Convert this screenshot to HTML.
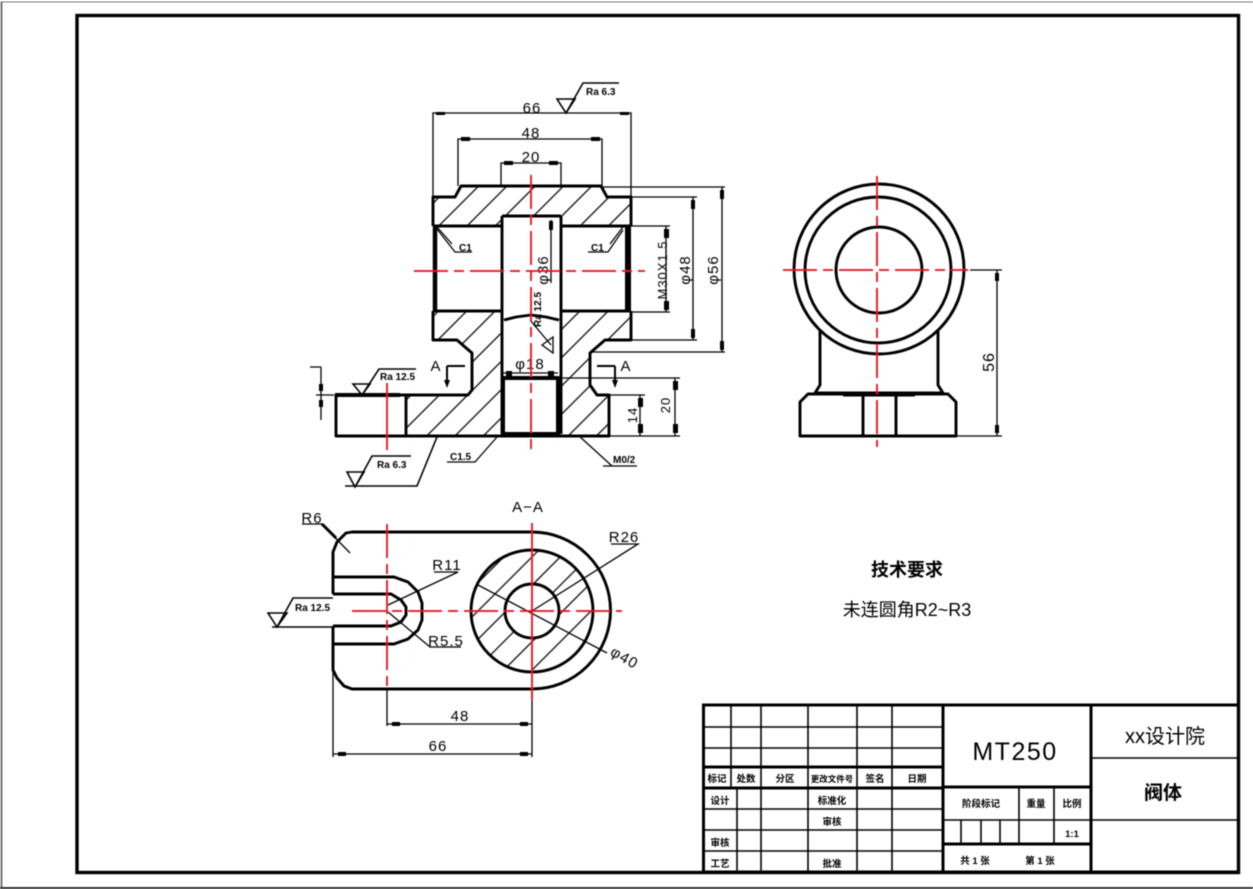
<!DOCTYPE html>
<html><head><meta charset="utf-8"><style>
html,body{margin:0;padding:0;background:#fff}
svg{display:block}
text{font-family:"Liberation Sans","Noto Sans CJK SC",sans-serif;fill:#000}
.t{font-family:"Liberation Sans Narrow","Liberation Sans",sans-serif;font-size:15px;text-anchor:middle;letter-spacing:1px}
.s{font-family:"Liberation Sans Narrow","Liberation Sans",sans-serif;font-size:10px;font-weight:bold}
.c{font-size:9.5px;font-weight:bold;text-anchor:middle}
.m{fill:none;stroke:#000;stroke-width:2.9;stroke-linejoin:round}
.d{fill:none;stroke:#000;stroke-width:1.3}
.r{fill:none;stroke:#e0101c;stroke-width:1.8;stroke-dasharray:34 6 10 6}
.h{stroke:#000;stroke-width:1.1;fill:url(#hatch)}
.b{fill:#000}
</style></head><body>
<svg width="1253" height="889" viewBox="0 0 1253 889" xmlns="http://www.w3.org/2000/svg">
<defs>
<pattern id="hatch" patternUnits="userSpaceOnUse" width="20" height="20" patternTransform="rotate(-45)"><line x1="0" y1="10" x2="20" y2="10" stroke="#000" stroke-width="1.2"/></pattern>
<filter id="bl" x="0" y="0" width="100%" height="100%"><feGaussianBlur stdDeviation="0.5"/></filter>
</defs>
<rect width="1253" height="889" fill="#fff"/>
<g filter="url(#bl)">
<path d="M1.5 889V1.5H1253" fill="none" stroke="#555" stroke-width="1.6"/>
<rect x="0" y="887" width="1253" height="2" fill="#333"/>
<rect x="77" y="15.5" width="1161.5" height="857" fill="none" stroke="#000" stroke-width="3.4"/>

<!-- FRONT VIEW hatching -->
<path d="M433 197H453L458 186H602L607 197H631V226H561V216H502V226H433Z" fill="url(#hatch)"/>
<path d="M433 311H502V436H406V395H468L472 390V353L457 340H433Z" fill="url(#hatch)"/>
<path d="M561 311H631V340H605L590 353V385L597 395H609V436H561Z" fill="url(#hatch)"/>

<!-- FRONT VIEW outline -->
<path class="m" d="M433 226V197H455L461 186H601L607 197H631V226"/>
<path class="m" d="M433 226H502M561 226H631"/>
<path class="m" d="M433 311H502M561 311H631"/>
<path class="m" d="M435 226V311" style="stroke-width:4.5"/>
<path class="m" d="M628 226V311" style="stroke-width:6"/>
<path class="m" d="M433 311V340H457L465 347L472 353V390L468 395H336V436H609V395H597L590 385V353L605 340H631V311"/>
<path class="m" d="M502 216H561M502 216V434M561 216V320M561 320V434"/>
<path class="m" d="M504 320L516 317 531 315 546 317 559 320"/>
<path class="m" d="M503 378H558V434H503Z" style="stroke-width:4"/>
<path class="m" d="M406 395V436"/>
<path class="m" d="M335 395H400" style="stroke-width:4"/>
<path class="d" d="M437 227L452 244M623 227L610 244"/>

<!-- Dimensions: front -->
<path class="d" d="M433 197V113H631V197M458 186V139H602V186M501 186V163H561V186"/>
<path class="d" d="M602 187H725M722 187V352M590 352H725M631 197H697M693 197V340M631 340H697M631 226H670M666 226V312M631 312H670"/>
<path class="d" d="M551 220V283M503 373H558"/>
<path class="d" d="M561 378H680M675 378V436M609 395H645M640 395V436M609 436H680"/>
<g class="b">
<rect x="436" y="112" width="9" height="3"/><rect x="620" y="112" width="9" height="3"/>
<rect x="461" y="137" width="9" height="4"/><rect x="591" y="137" width="9" height="4"/>
<rect x="504" y="161" width="9" height="4"/><rect x="549" y="161" width="9" height="4"/>
<rect x="720" y="190" width="4" height="9"/><rect x="720" y="341" width="4" height="9"/>
<rect x="691" y="200" width="4" height="9"/><rect x="691" y="329" width="4" height="9"/>
<rect x="664" y="229" width="5" height="9"/><rect x="664" y="301" width="5" height="9"/>
<rect x="549" y="221" width="4" height="9"/>
<rect x="638" y="398" width="5" height="9"/><rect x="638" y="424" width="5" height="9"/>
<rect x="673" y="381" width="5" height="9"/><rect x="673" y="424" width="5" height="9"/>
<rect x="506" y="371" width="6" height="5"/><rect x="548" y="371" width="6" height="5"/>
<rect x="319" y="384" width="4" height="7"/><rect x="319" y="400" width="4" height="7"/>
</g>
<text class="t" x="532" y="113">66</text>
<text class="t" x="531" y="138">48</text>
<text class="t" x="531" y="162">20</text>
<text class="t" transform="translate(667,270) rotate(-90)" style="font-size:13px">M30X1.5</text>
<text class="t" transform="translate(690,270) rotate(-90)">φ48</text>
<text class="t" transform="translate(718,270) rotate(-90)">φ56</text>
<text class="t" transform="translate(548,270) rotate(-90)">φ36</text>
<text class="s" transform="translate(541,327) rotate(-90)">Ra 12.5</text>
<text class="t" x="530" y="369">φ18</text>
<text class="t" transform="translate(637,415) rotate(-90)" style="font-size:13px">14</text>
<text class="t" transform="translate(670,405) rotate(-90)" style="font-size:13px">20</text>
<text class="s" x="459" y="251">C1</text><path class="d" d="M437 229L455 252H472"/>
<text class="s" x="591" y="251">C1</text><path class="d" d="M623 230L608 252H588"/>
<path class="d" d="M530 320L551 345" />
<path class="d" d="M553 337L542 345 553 353Z"/>

<!-- Roughness symbols -->
<path d="M557 99H575L566 113ZM566 113L583 83H619" fill="none" stroke="#000" stroke-width="1.6"/>
<text class="s" x="586" y="95">Ra 6.3</text>
<path d="M353 384H370L362 395ZM362 395L379 369H416" fill="none" stroke="#000" stroke-width="1.6"/>
<text class="s" x="380" y="380">Ra 12.5</text>
<path d="M347 472H364L355 487ZM355 487L372 456H411M345 486H417L437 437" fill="none" stroke="#000" stroke-width="1.6"/>
<text class="s" x="377" y="468">Ra 6.3</text>
<path class="d" d="M447 462H475L497 437M603 466H637M612 466L578 435"/>
<text class="s" x="450" y="460">C1.5</text>
<text class="s" x="613" y="463">M0/2</text>
<path class="d" d="M321 367V420M310 367H321M316 395H334"/>
<!-- A section marks -->
<text class="t" x="436" y="371">A</text>
<text class="t" x="626" y="371">A</text>
<path d="M447 366H465M447 366V385M597 366H615M615 366V385" fill="none" stroke="#000" stroke-width="2"/>
<path d="M444 380H450L447 388ZM612 380H618L615 388Z" fill="#000"/>

<!-- centre lines front -->
<line class="r" x1="414" y1="271" x2="645" y2="271"/>
<line class="r" x1="531" y1="175" x2="531" y2="450"/>
<line x1="387" y1="383" x2="387" y2="450" stroke="#e0101c" stroke-width="1.8"/>

<!-- SIDE VIEW -->
<path class="m" d="M820 330V385L815 393H943L938 385V330" />
<path class="m" d="M800 436V402L808 394H948L956 402V436ZM863 394V436M896 394V436M843 395H915"/>
<circle class="m" cx="879" cy="269" r="85"/>
<circle class="m" cx="878" cy="270" r="73"/>
<circle class="m" cx="879" cy="270" r="43"/>
<path class="d" d="M970 270H1002M956 436H1002M997 270V436"/>
<rect class="b" x="995" y="273" width="4" height="8"/><rect class="b" x="995" y="425" width="4" height="8"/>
<text class="t" transform="translate(994,362) rotate(-90)" style="font-size:16px">56</text>
<line class="r" x1="783" y1="270" x2="968" y2="270"/>
<line class="r" x1="877" y1="176" x2="877" y2="447"/>

<!-- SECTION A-A -->
<path class="m" d="M333 594V552L337 542L346 533L352 532H532A78.5 78.5 0 0 1 532 689H352L344 686L337 678L333 670V626"/>
<path class="m" d="M333 577H394L408 582L418 592L422 603V620L418 630L408 639L394 644H333"/>
<path class="m" d="M333 594H391L401 600L406 607V615L401 622L391 626H333"/>
<path class="h" style="stroke:none" fill-rule="evenodd" d="M593 611A61 61 0 1 1 471 611A61 61 0 1 1 593 611ZM559 611A27 27 0 1 0 505 611A27 27 0 1 0 559 611Z"/>
<circle class="m" cx="532" cy="611" r="61"/>
<circle class="m" cx="532" cy="611" r="27"/>
<path class="d" d="M302 524H322L350 553M434 572H458L388 605M388 612L430 647H461M611 544H638L532 611M478 585L607 653"/>
<path d="M322 524L336 538" stroke="#000" stroke-width="3"/>
<text class="t" x="312" y="523">R6</text>
<text class="t" x="447" y="570">R11</text>
<text class="t" x="446" y="646">R5.5</text>
<text class="t" x="624" y="542">R26</text>
<text class="t" transform="translate(622,662) rotate(30)">φ40</text>
<text class="t" x="528" y="512" style="font-size:15px">A−A</text>
<path d="M268 613H287L277 627ZM277 627L293 598H333M272 627H333" fill="none" stroke="#000" stroke-width="1.6"/>
<text class="s" x="295" y="611">Ra 12.5</text>
<path class="d" d="M387 690V726M532 690V757M333 660V757M387 724H532M333 754H532"/>
<rect class="b" x="392" y="722" width="8" height="4"/><rect class="b" x="520" y="722" width="8" height="4"/>
<rect class="b" x="338" y="752" width="8" height="4"/><rect class="b" x="520" y="752" width="8" height="4"/>
<text class="t" x="460" y="721">48</text>
<text class="t" x="438" y="751">66</text>
<line class="r" x1="352" y1="611" x2="622" y2="611"/>
<line class="r" x1="387" y1="524" x2="387" y2="690"/>
<line x1="532" y1="523" x2="532" y2="700" stroke="#e0101c" stroke-width="1.8"/>

<!-- Technical notes -->
<text x="907" y="576" text-anchor="middle" style="font-size:18px;font-weight:bold">技术要求</text>
<text x="907" y="616" text-anchor="middle" style="font-size:18px">未连圆角R2~R3</text>

<!-- TITLE BLOCK -->
<rect x="703.5" y="705" width="535" height="167" fill="none" stroke="#000" stroke-width="3"/>
<path d="M703 727H943M703 748H943M703 809H943M703 830H943M703 851H943" fill="none" stroke="#000" stroke-width="1.6"/>
<path d="M703 767H943M703 788H943" fill="none" stroke="#000" stroke-width="3"/>
<path d="M731 705V788M761 705V788M808 705V872M857 705V872M892 705V872M737 788V872M761 788V872" fill="none" stroke="#000" stroke-width="1.6"/>
<path d="M943 705V872M1091 705V872" fill="none" stroke="#000" stroke-width="3"/>
<path d="M943 787H1091M943 844H1091" fill="none" stroke="#000" stroke-width="3"/>
<path d="M943 820H1091M1091 758H1238M1091 820H1238M1019 787V844M1054 787V844M961 820V844M981 820V844M1000 820V844" fill="none" stroke="#000" stroke-width="1.6"/>
<text class="c" x="717" y="782">标记</text><text class="c" x="746" y="782">处数</text><text class="c" x="785" y="782">分区</text><text class="c" x="832" y="782" style="font-size:8.5px">更改文件号</text><text class="c" x="875" y="782">签名</text><text class="c" x="917" y="782">日期</text>
<text class="c" x="720" y="804">设计</text><text class="c" x="832" y="804">标准化</text>
<text class="c" x="832" y="825">审核</text>
<text class="c" x="720" y="846">审核</text>
<text class="c" x="720" y="867">工艺</text><text class="c" x="832" y="867">批准</text>
<text class="c" x="981" y="807">阶段标记</text><text class="c" x="1036" y="807">重量</text><text class="c" x="1072" y="807">比例</text>
<text class="c" x="1072" y="837">1:1</text>
<text class="c" x="975" y="864">共 1 张</text><text class="c" x="1040" y="864">第 1 张</text>
<text x="1015" y="760" text-anchor="middle" style="font-family:'Liberation Sans Narrow','Liberation Sans',sans-serif;font-size:25px;letter-spacing:1.5px">MT250</text>
<text x="1165" y="743" text-anchor="middle" style="font-size:20px">xx设计院</text>
<text x="1163" y="799" text-anchor="middle" style="font-size:19px;font-weight:bold">阀体</text>
</g>
</svg>
</body></html>
